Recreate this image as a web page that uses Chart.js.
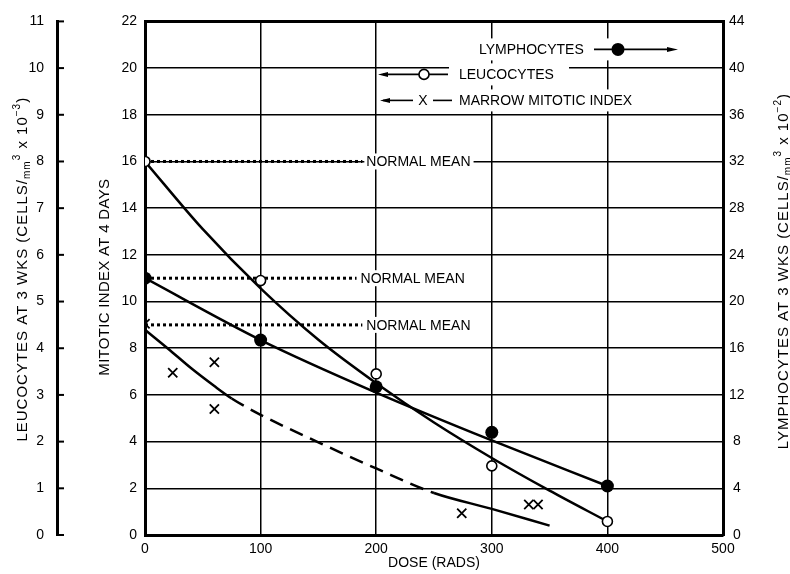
<!DOCTYPE html>
<html><head><meta charset="utf-8">
<script src="https://cdn.jsdelivr.net/npm/chart.js@4.4.0/dist/chart.umd.min.js"></script>
<style>html,body{margin:0;padding:0;background:#fff}#wrap{width:790px;height:574px}</style>
</head><body><div id="wrap"><canvas id="c" width="790" height="574"></canvas></div>
<script>
// ---- tick labels ----
const doseTicks = [0, 100, 200, 300, 400, 500];
const mitoticTicks = [0, 2, 4, 6, 8, 10, 12, 14, 16, 18, 20, 22];
const leucoTicks = [0, 1, 2, 3, 4, 5, 6, 7, 8, 9, 10, 11];
const lymphTicks = [0, 4, 8, 12, 16, 20, 24, 28, 32, 36, 40, 44];

// ---- measured points ----
const sampleDoses = [0, 100, 200, 300, 400];
const leucocytes = [8.0, 5.45, 3.45, 1.48, 0.29];        // cells/mm3 x 10^-3
const lymphocytes = [22.0, 16.7, 12.7, 8.8, 4.2];        // cells/mm3 x 10^-2
const marrowDoses = [0, 24, 60, 60, 274, 332, 340];
const marrowIndex = [9.05, 6.95, 7.4, 5.4, 0.93, 1.31, 1.31];

// ---- fitted curves ----
const leucoCurveDoses = [0, 50, 100, 150, 200, 250, 300, 350, 400];
const leucoCurve = [8.0, 6.55, 5.28, 4.18, 3.25, 2.41, 1.65, 0.95, 0.29];
const lymphCurveDoses = [0, 100, 200, 300, 400];
const lymphCurve = [22.0, 16.7, 12.2, 8.1, 4.2];
const marrowCurveDoses = [1, 20, 40, 60, 75, 100, 150, 200, 250, 300, 350];
const marrowCurve = [8.75, 7.98, 7.14, 6.38, 5.85, 5.15, 3.97, 2.85, 1.8, 1.12, 0.4];
const marrowDashFrom = 75, marrowDashTo = 250;

// ---- normal means ----
const leucoNormal = 8;      // leucocyte axis
const lymphNormal = 22;     // lymphocyte axis
const marrowNormal = 9;     // mitotic axis
const normalEndDoses = [188, 183, 188];

const FONT = "'Liberation Sans', Arial, sans-serif";
const pts = (xs, ys) => xs.map((d, i) => ({x: d, y: ys[i]}));

const decor = {
  id: 'decor',
  afterDraw(chart) {
    const {ctx, scales} = chart;
    const sx = scales.x, sm = scales.y, sl = scales.yLeuco, sr = scales.yLymph;
    ctx.save();
    ctx.fillStyle = '#000'; ctx.strokeStyle = '#000';
    // inward ticks on the leucocyte axis
    ctx.lineWidth = 2;
    leucoTicks.forEach(v => {
      const py = sl.getPixelForValue(v);
      ctx.beginPath(); ctx.moveTo(sl.right, py); ctx.lineTo(sl.right + 7, py); ctx.stroke();
    });
    // NORMAL MEAN labels
    ctx.font = '14px ' + FONT; ctx.textBaseline = 'middle'; ctx.textAlign = 'left';
    const normals = [[sl, leucoNormal, normalEndDoses[0]], [sr, lymphNormal, normalEndDoses[1]], [sm, marrowNormal, normalEndDoses[2]]];
    normals.forEach(([sc, v, d]) => {
      const px = sx.getPixelForValue(d) + 4, py = sc.getPixelForValue(v);
      const w = ctx.measureText('NORMAL MEAN').width;
      ctx.fillStyle = '#fff'; ctx.fillRect(px - 2, py - 8, w + 5, 16);
      ctx.fillStyle = '#000'; ctx.fillText('NORMAL MEAN', px, py + 1);
    });
    // legend (white boxes breaking grid)
    const L = chart.chartArea.left, T = chart.chartArea.top;
    ctx.fillStyle = '#fff';
    ctx.fillRect(L + 326, T + 17, 142, 22);
    ctx.fillRect(L + 304, T + 42, 120, 22);
    ctx.fillRect(L + 304, T + 68, 196, 22);
    ctx.fillStyle = '#000';
    const r1 = T + 28, r2 = T + 53, r3 = T + 79;
    ctx.fillText('LYMPHOCYTES', L + 334, r1 + 1);
    ctx.fillText('LEUCOCYTES', L + 314, r2 + 1);
    ctx.fillText('MARROW MITOTIC INDEX', L + 314, r3 + 1);
    ctx.lineWidth = 1.6;
    // row 1
    ctx.beginPath(); ctx.moveTo(L + 449, r1); ctx.lineTo(L + 527, r1); ctx.stroke();
    ctx.beginPath(); ctx.moveTo(L + 533, r1); ctx.lineTo(L + 522, r1 - 2.5); ctx.lineTo(L + 522, r1 + 2.5); ctx.closePath(); ctx.fill();
    ctx.beginPath(); ctx.arc(L + 473, r1, 6.5, 0, Math.PI * 2); ctx.fill();
    // row 2
    ctx.beginPath(); ctx.moveTo(L + 238, r2); ctx.lineTo(L + 303, r2); ctx.stroke();
    ctx.beginPath(); ctx.moveTo(L + 233, r2); ctx.lineTo(L + 243, r2 - 2.5); ctx.lineTo(L + 243, r2 + 2.5); ctx.closePath(); ctx.fill();
    ctx.beginPath(); ctx.arc(L + 279, r2, 5, 0, Math.PI * 2); ctx.fillStyle = '#fff'; ctx.fill(); ctx.stroke();
    ctx.fillStyle = '#000';
    // row 3
    ctx.beginPath(); ctx.moveTo(L + 238, r3); ctx.lineTo(L + 268, r3); ctx.stroke();
    ctx.beginPath(); ctx.moveTo(L + 235, r3); ctx.lineTo(L + 245, r3 - 2.5); ctx.lineTo(L + 245, r3 + 2.5); ctx.closePath(); ctx.fill();
    ctx.textAlign = 'center'; ctx.fillText('X', L + 278, r3 + 1);
    ctx.beginPath(); ctx.moveTo(L + 288, r3); ctx.lineTo(L + 307, r3); ctx.stroke();
    ctx.restore();

    // axis titles (rotated, reading upward)
    const small = 10;
    const leucoParts = [
      {t: 'LEUCOCYTES AT 3 WKS (CELLS/', s: 15, dy: 0},
      {t: 'mm', s: small, dy: 3},
      {t: '3', s: small, dy: -7},
      {t: ' x 10', s: 15, dy: 0},
      {t: '\u22123', s: small, dy: -7},
      {t: ')', s: 15, dy: 0}];
    const lymphParts = [
      {t: 'LYMPHOCYTES AT 3 WKS (CELLS/', s: 15, dy: 0},
      {t: 'mm', s: small, dy: 3},
      {t: '3', s: small, dy: -7},
      {t: ' x 10', s: 15, dy: 0},
      {t: '\u22122', s: small, dy: -7},
      {t: ')', s: 15, dy: 0}];
    const cy = (chart.chartArea.top + chart.chartArea.bottom) / 2;
    drawTitle(ctx, sl.left + 21, cy - 9, leucoParts, '1px');
    drawTitle(ctx, sl.right + 46, cy - 1, [{t: 'MITOTIC INDEX AT 4 DAYS', s: 15, dy: 0}], '0.3px');
    drawTitle(ctx, sr.left + 59, cy - 7, lymphParts, '1px');
  }
};

function drawTitle(ctx, cx, cy, parts, spacing) {
  ctx.save();
  ctx.translate(cx, cy);
  ctx.rotate(-Math.PI / 2);
  ctx.fillStyle = '#000';
  ctx.textAlign = 'left'; ctx.textBaseline = 'alphabetic';
  try { ctx.letterSpacing = spacing; } catch (e) {}
  let total = 0;
  const ws = parts.map(p => { ctx.font = p.s + 'px ' + FONT; const w = ctx.measureText(p.t).width; total += w; return w; });
  let x = -total / 2;
  parts.forEach((p, i) => { ctx.font = p.s + 'px ' + FONT; ctx.fillText(p.t, x, 5.5 + p.dy); x += ws[i]; });
  ctx.restore();
}

const tickFont = {family: FONT, size: 14};
const forceTicks = arr => s => { s.ticks = arr.map(v => ({value: v})); };

new Chart(document.getElementById('c'), {
  type: 'line',
  data: {
    datasets: [
      {type: 'scatter', label: 'Lymphocytes', data: pts(sampleDoses, lymphocytes), yAxisID: 'yLymph',
       pointRadius: 6.5, pointBackgroundColor: '#000', pointBorderColor: '#000', pointBorderWidth: 0, showLine: false},
      {type: 'scatter', label: 'Leucocytes', data: pts(sampleDoses, leucocytes), yAxisID: 'yLeuco',
       pointRadius: 5, pointBackgroundColor: '#fff', pointBorderColor: '#000', pointBorderWidth: 1.6, showLine: false},
      {type: 'scatter', label: 'Marrow mitotic index', data: pts(marrowDoses, marrowIndex), yAxisID: 'y',
       pointStyle: 'crossRot', pointRadius: 6.5, pointBorderColor: '#000', pointBorderWidth: 1.8, showLine: false},
      {label: 'Leucocyte curve', data: pts(leucoCurveDoses, leucoCurve), yAxisID: 'yLeuco',
       borderColor: '#000', borderWidth: 2.5, pointRadius: 0, cubicInterpolationMode: 'monotone', fill: false},
      {label: 'Lymphocyte curve', data: pts(lymphCurveDoses, lymphCurve), yAxisID: 'yLymph',
       borderColor: '#000', borderWidth: 2.5, pointRadius: 0, cubicInterpolationMode: 'monotone', fill: false},
      {label: 'Marrow curve', data: pts(marrowCurveDoses, marrowCurve), yAxisID: 'y',
       borderColor: '#000', borderWidth: 2.5, pointRadius: 0, cubicInterpolationMode: 'monotone', fill: false,
       segment: {borderDash: c => (c.p0.parsed.x >= marrowDashFrom && c.p1.parsed.x <= marrowDashTo) ? [14, 8] : undefined}},
      {label: 'Leucocyte normal', data: pts([0, normalEndDoses[0]], [leucoNormal, leucoNormal]), yAxisID: 'yLeuco',
       borderColor: '#000', borderWidth: 3, borderDash: [3, 3], pointRadius: 0},
      {label: 'Lymphocyte normal', data: pts([0, normalEndDoses[1]], [lymphNormal, lymphNormal]), yAxisID: 'yLymph',
       borderColor: '#000', borderWidth: 3, borderDash: [3, 3], pointRadius: 0},
      {label: 'Marrow normal', data: pts([0, normalEndDoses[2]], [marrowNormal, marrowNormal]), yAxisID: 'y',
       borderColor: '#000', borderWidth: 3, borderDash: [3, 3], pointRadius: 0}
    ]
  },
  options: {
    responsive: false, animation: false, devicePixelRatio: 1,
    layout: {padding: {top: 19, right: 0, bottom: 0, left: 0}},
    plugins: {legend: {display: false}, tooltip: {enabled: false}},
    scales: {
      x: {
        type: 'linear', position: 'bottom', min: 0, max: 500,
        afterBuildTicks: forceTicks(doseTicks),
        afterFit: s => { s.height = 39; },
        grid: {color: c => (c.tick && (c.tick.value === 0 || c.tick.value === 500)) ? 'rgba(0,0,0,0)' : '#000', lineWidth: 1.5, drawTicks: false},
        border: {color: '#000', width: 3},
        ticks: {color: '#000', font: tickFont, padding: 6, maxRotation: 0, autoSkip: false, callback: v => String(v)},
        title: {display: true, text: 'DOSE (RADS)', color: '#000', font: {family: FONT, size: 14}, padding: {top: 0, bottom: 2}}
      },
      yLeuco: {
        type: 'linear', position: 'left', weight: 10, min: 0, max: 11,
        afterBuildTicks: forceTicks(leucoTicks),
        afterFit: s => { s.width = 57; },
        grid: {drawOnChartArea: false, drawTicks: false, color: '#000'},
        border: {color: '#000', width: 3},
        ticks: {color: '#000', font: tickFont, padding: 13, autoSkip: false}
      },
      y: {
        type: 'linear', position: 'left', weight: 0, min: 0, max: 22,
        afterBuildTicks: forceTicks(mitoticTicks),
        afterFit: s => { s.width = 88; },
        grid: {color: '#000', lineWidth: c => (c.tick && c.tick.value === 22) ? 3 : 1.5, drawTicks: false},
        border: {color: '#000', width: 3},
        ticks: {color: '#000', font: tickFont, padding: 8, autoSkip: false}
      },
      yLymph: {
        type: 'linear', position: 'right', min: 0, max: 44,
        afterBuildTicks: forceTicks(lymphTicks),
        afterFit: s => { s.width = 67; },
        grid: {drawOnChartArea: false, drawTicks: false, color: '#000'},
        border: {color: '#000', width: 3},
        ticks: {color: '#000', font: tickFont, padding: 6, crossAlign: 'center', autoSkip: false}
      }
    }
  },
  plugins: [decor]
});
</script>
</body></html>
